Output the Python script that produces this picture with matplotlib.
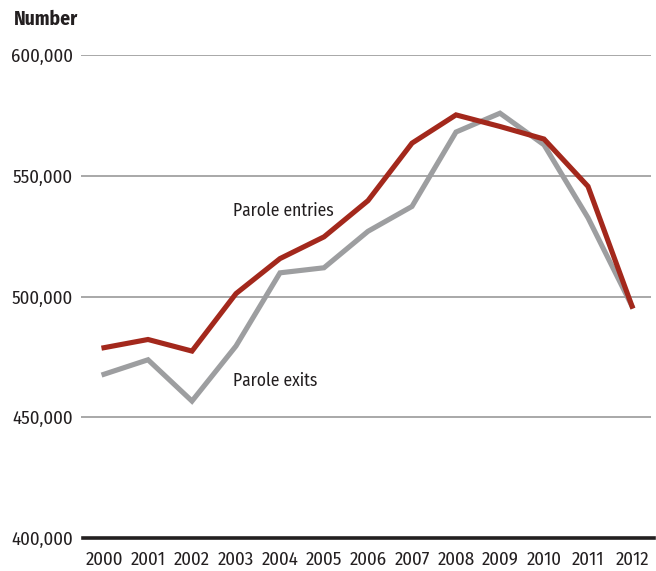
import numpy as np
import matplotlib
matplotlib.use('Agg')
import matplotlib.pyplot as plt

# data
years = list(range(2000, 2013))
entries = [478800, 482200, 477400, 501200, 515700, 524700, 539700,
           563500, 575200, 570400, 565200, 545600, 496000]
exits = [467800, 473800, 456700, 479500, 509800, 511900, 527000,
         537300, 568100, 575900, 562800, 532600, 496000]
yticks = [400000, 450000, 500000, 550000, 600000]

plt.rcParams['font.family'] = ['Fira Sans Condensed', 'DejaVu Sans']
txt = '#231f20'

fig = plt.figure(figsize=(6.56, 5.71), dpi=100)
ax = fig.add_axes([81 / 656, 1 - 538 / 571, 570 / 656, 483 / 571])

for y in yticks[1:]:
    ax.axhline(y, color='#9a9a9a', lw=1.2, zorder=1)
ax.axhline(400000, color='#231f20', lw=2.6, zorder=3, xmin=0.004, xmax=1.005, clip_on=False)

ax.plot(years, exits, color='#9d9ea0', lw=3.7, solid_joinstyle='miter', zorder=4)
ax.plot(years, entries, color='#a3281c', lw=3.7, solid_joinstyle='miter', zorder=5)

ax.set_xlim(2000 - 23 / 44, 2012 + 19 / 44)
ax.set_ylim(400000, 600000)
ax.set_xticks(years)
ax.set_xticklabels([str(y) for y in years], fontsize=13.5, color=txt)
ax.set_yticks(yticks)
ax.set_yticklabels(['{:,}'.format(v) for v in yticks], fontsize=13.5, color=txt)
ax.tick_params(length=0)
ax.tick_params(axis='y', pad=6)
ax.tick_params(axis='x', pad=9)
for s in ax.spines.values():
    s.set_visible(False)

ax.text(2002.93, 533500, 'Parole entries', fontsize=12.6, color=txt, ha='left', va='baseline')
ax.text(2002.93, 462800, 'Parole exits', fontsize=12.6, color=txt, ha='left', va='baseline')
fig.text(14 / 656, 1 - 25 / 571, 'Number', fontsize=14, fontweight='bold', color=txt,
         ha='left', va='baseline')

fig.savefig('out.png', dpi=100)
